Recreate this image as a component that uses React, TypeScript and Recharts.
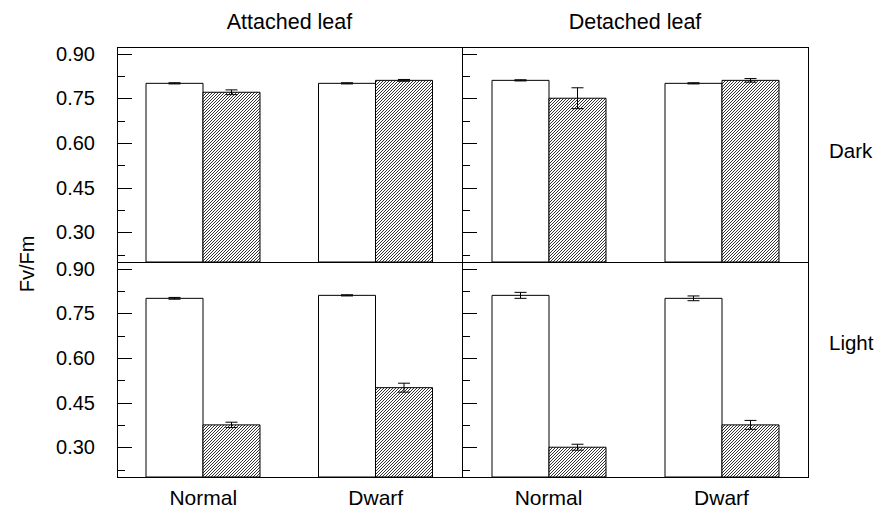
import React from 'react';
import { Bar, BarChart, ErrorBar, XAxis, YAxis } from 'recharts';

const FONT = '"Liberation Sans", Arial, Helvetica, sans-serif';

const categories = ['Normal', 'Dwarf'];
const yTicks = [0.225, 0.3, 0.375, 0.45, 0.525, 0.6, 0.675, 0.75, 0.825, 0.9];
const majorTicks = [0.3, 0.45, 0.6, 0.75, 0.9];

// attached leaf, dark
const attachedDarkOpen = [0.8, 0.8];
const attachedDarkOpenErr = [0.002, 0.002];
const attachedDarkHatched = [0.77, 0.81];
const attachedDarkHatchedErr = [0.008, 0.003];

// detached leaf, dark
const detachedDarkOpen = [0.81, 0.8];
const detachedDarkOpenErr = [0.002, 0.002];
const detachedDarkHatched = [0.75, 0.81];
const detachedDarkHatchedErr = [0.035, 0.006];

// attached leaf, light
const attachedLightOpen = [0.8, 0.81];
const attachedLightOpenErr = [0.003, 0.002];
const attachedLightHatched = [0.375, 0.5];
const attachedLightHatchedErr = [0.009, 0.015];

// detached leaf, light
const detachedLightOpen = [0.81, 0.8];
const detachedLightOpenErr = [0.01, 0.008];
const detachedLightHatched = [0.3, 0.375];
const detachedLightHatchedErr = [0.01, 0.015];

const makeRows = (open: number[], openErr: number[], hatched: number[], hatchedErr: number[]) =>
  categories.map((name, i) => ({
    name,
    open: open[i],
    openErr: openErr[i],
    hatched: hatched[i],
    hatchedErr: hatchedErr[i],
  }));

const makeTick = (showLabel: boolean) => (props: any) => {
  const { x, y, payload } = props;
  const major = majorTicks.some((t) => Math.abs(t - payload.value) < 1e-6);
  const yy = Math.round(y) + 0.5;
  return (
    <g>
      <line x1={x} x2={x + (major ? 15 : 8)} y1={yy} y2={yy} stroke='#000' strokeWidth={1} />
      {major && showLabel ? (
        <text x={x - 22} y={y} dy='0.355em' textAnchor='end' fontSize={20} fill='#000' fontFamily={FONT}>
          {payload.value.toFixed(2)}
        </text>
      ) : null}
    </g>
  );
};

type PanelProps = {
  id: string;
  rows: ReturnType<typeof makeRows>;
  left: number;
  top: number;
  plotWidth: number;
  showYLabels: boolean;
  showXLabels: boolean;
};

// top margin leaves room so the 0.90 label is not clipped by the svg
const PAD_TOP = 12;

function Panel({ id, rows, left, top, plotWidth, showYLabels, showXLabels }: PanelProps) {
  const axisWidth = 117;
  const xAxisHeight = 32;
  const plotHeight = 215;
  return (
    <div style={{ position: 'absolute', left, top: top - PAD_TOP }}>
      <BarChart
        width={axisWidth + plotWidth}
        height={PAD_TOP + plotHeight + (showXLabels ? xAxisHeight : 0)}
        data={rows}
        margin={{ top: PAD_TOP, right: 0, bottom: 0, left: 0 }}
        barGap={0}
      >
        <defs>
          <pattern id={`hatch-${id}`} patternUnits='userSpaceOnUse' width={3} height={3}>
            <rect width={3} height={3} fill='#fff' />
            <path d='M-0.75,0.75 L0.75,-0.75 M0,3 L3,0 M2.25,3.75 L3.75,2.25' stroke='#000' strokeWidth={0.8} />
          </pattern>
        </defs>
        <XAxis
          dataKey='name'
          hide={!showXLabels}
          height={xAxisHeight}
          axisLine={false}
          tickLine={false}
          tickSize={0}
          tickMargin={13}
          tick={{ fontSize: 21, fill: '#000', fontFamily: FONT }}
        />
        <YAxis
          type='number'
          domain={[0.2, 0.922]}
          allowDataOverflow
          ticks={yTicks}
          interval={0}
          width={axisWidth}
          axisLine={false}
          tickLine={false}
          tickSize={0}
          tickMargin={0}
          tick={makeTick(showYLabels)}
        />
        <Bar dataKey='open' fill='#fff' stroke='#000' strokeWidth={1} barSize={57} isAnimationActive={false}>
          <ErrorBar dataKey='openErr' width={6} stroke='#000' strokeWidth={1} isAnimationActive={false} />
        </Bar>
        <Bar dataKey='hatched' fill={`url(#hatch-${id})`} stroke='#000' strokeWidth={1} barSize={57} isAnimationActive={false}>
          <ErrorBar dataKey='hatchedErr' width={6} stroke='#000' strokeWidth={1} isAnimationActive={false} />
        </Bar>
      </BarChart>
    </div>
  );
}

export default function App() {
  return (
    <div style={{ position: 'relative', width: 875, height: 509, background: '#fff', overflow: 'hidden' }}>
      <style>{'body{margin:0}'}</style>
      <Panel
        id='ad'
        rows={makeRows(attachedDarkOpen, attachedDarkOpenErr, attachedDarkHatched, attachedDarkHatchedErr)}
        left={0}
        top={47}
        plotWidth={345}
        showYLabels
        showXLabels={false}
      />
      <Panel
        id='dd'
        rows={makeRows(detachedDarkOpen, detachedDarkOpenErr, detachedDarkHatched, detachedDarkHatchedErr)}
        left={345}
        top={47}
        plotWidth={346}
        showYLabels={false}
        showXLabels={false}
      />
      <Panel
        id='al'
        rows={makeRows(attachedLightOpen, attachedLightOpenErr, attachedLightHatched, attachedLightHatchedErr)}
        left={0}
        top={262}
        plotWidth={345}
        showYLabels
        showXLabels
      />
      <Panel
        id='dl'
        rows={makeRows(detachedLightOpen, detachedLightOpenErr, detachedLightHatched, detachedLightHatchedErr)}
        left={345}
        top={262}
        plotWidth={346}
        showYLabels={false}
        showXLabels
      />
      <svg
        width={875}
        height={509}
        style={{ position: 'absolute', left: 0, top: 0, pointerEvents: 'none' }}
        fontFamily={FONT}
        fontSize={21}
      >
        <rect x={117.5} y={47.5} width={691} height={430} fill='none' stroke='#000' strokeWidth={1} />
        <line x1={462.5} x2={462.5} y1={47.5} y2={477.5} stroke='#000' strokeWidth={1} />
        <line x1={117.5} x2={808.5} y1={262.5} y2={262.5} stroke='#000' strokeWidth={1} />
        <text x={289.5} y={29} textAnchor='middle' fontSize={21.5} fill='#000'>Attached leaf</text>
        <text x={635} y={29} textAnchor='middle' fontSize={21.5} fill='#000'>Detached leaf</text>
        <text x={829} y={158} fontSize={20.5} fill='#000'>Dark</text>
        <text x={829} y={350} fontSize={20.5} fill='#000'>Light</text>
        <text x={34} y={264} textAnchor='middle' fontSize={20} fill='#000' transform='rotate(-90 34 264)'>Fv/Fm</text>
      </svg>
    </div>
  );
}
